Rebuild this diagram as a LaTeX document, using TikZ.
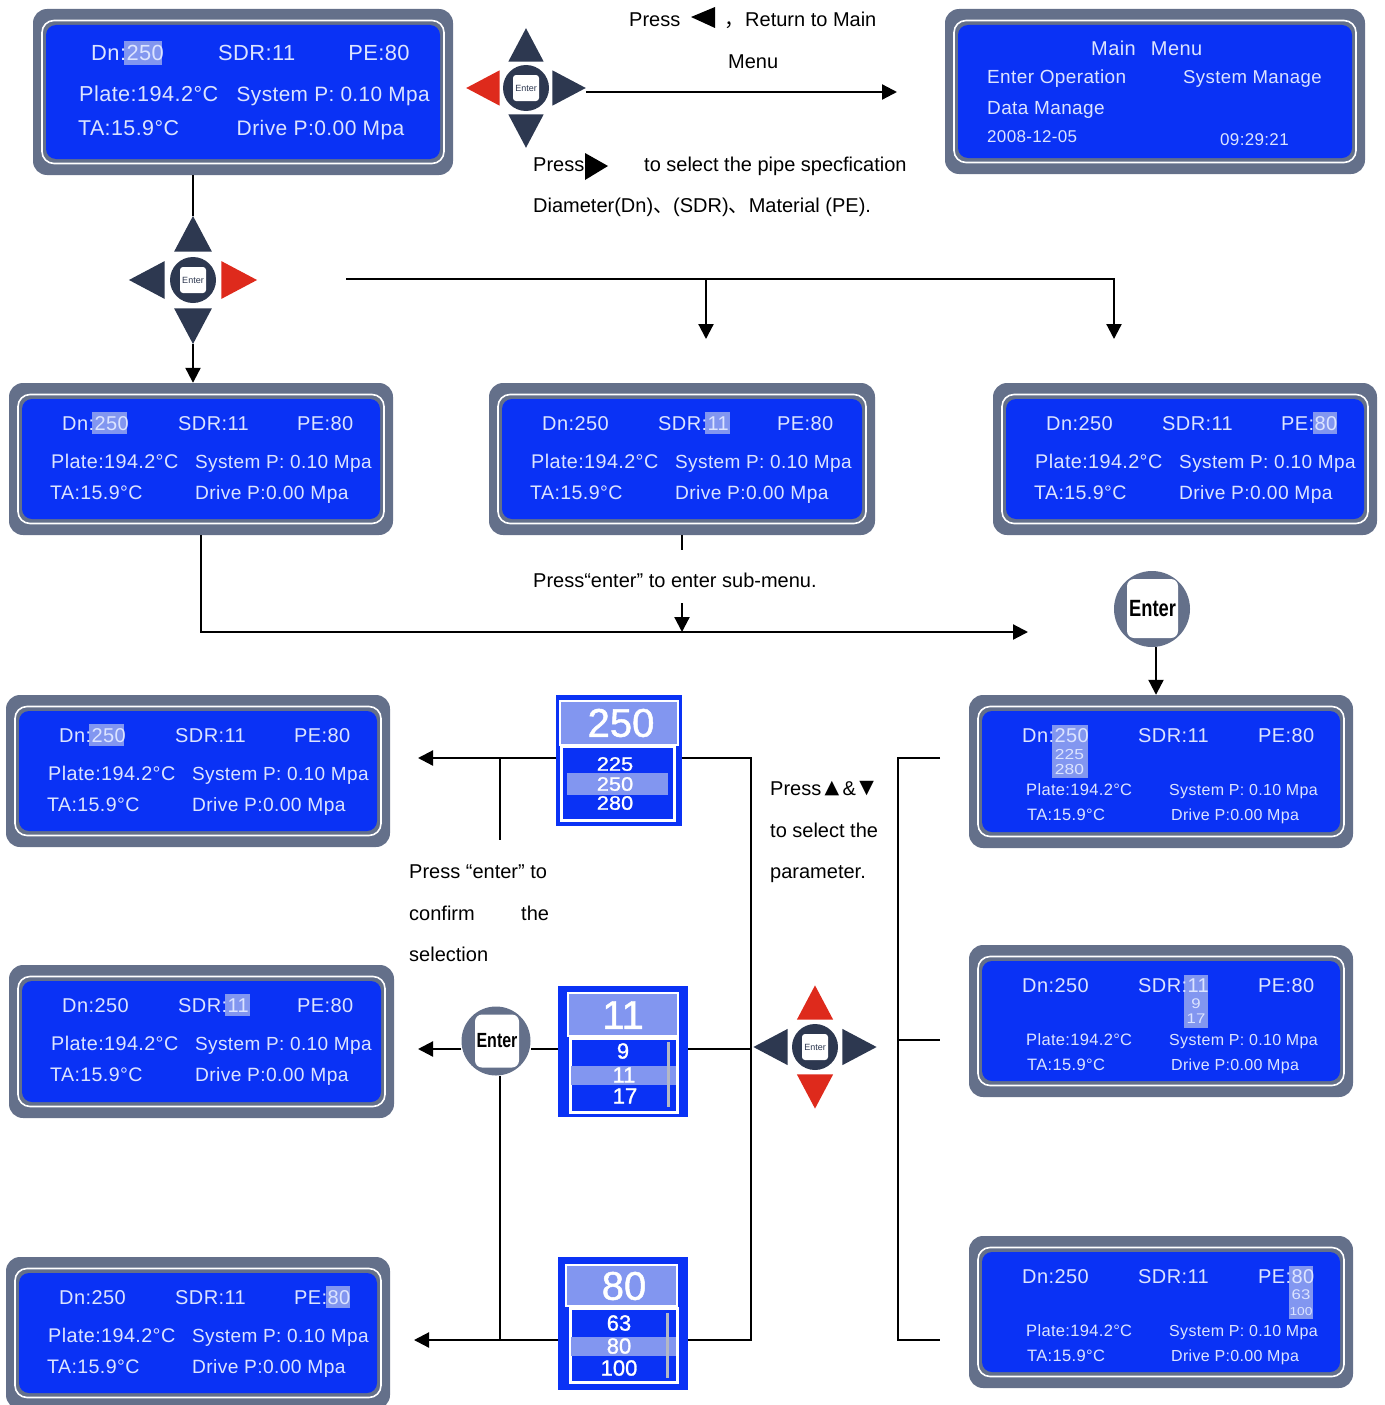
\documentclass[tikz,border=0pt]{standalone}
\usepackage{fontspec}
\usetikzlibrary{arrows.meta}
\setmainfont{Liberation Sans}
\newfontfamily\lcdf[LetterSpace=2]{Liberation Sans}
\newfontfamily\listf[FakeStretch=1.2]{Liberation Sans}
\newfontfamily\boxf[FakeBold=1.2]{Liberation Sans}
\newfontfamily\rowf[FakeBold=1.2,FakeStretch=1.12]{Liberation Sans}
\newfontfamily\keyf[FakeStretch=0.78]{Liberation Sans Bold}
\newfontfamily\symf{DejaVu Sans}
\newfontfamily\cjkf{Noto Sans CJK SC}
\definecolor{lcdgray}{HTML}{64708A}
\definecolor{lcdblue}{HTML}{0A32F5}
\definecolor{lcdhl}{HTML}{8296F0}
\definecolor{lcdtext}{HTML}{DCE4FF}
\definecolor{keydark}{HTML}{2D3850}
\definecolor{keyred}{HTML}{DE2A1C}
\definecolor{scrollgray}{HTML}{B4B8C4}
\tikzset{
  lcdouter/.style={fill=lcdgray,rounded corners=14pt,inner sep=0pt,draw=none},
  lcdtxt/.style={text=lcdtext,anchor=base west,inner sep=0pt,font=\lcdf\fontsize{#1}{#1}\selectfont},
  lcdtxt/.default=20,
  listtxt/.style={text=lcdtext,anchor=base,inner sep=0pt,font=\listf\fontsize{#1}{#1}\selectfont},
  hlfill/.style={fill=lcdhl},
  label/.style={anchor=base west,inner sep=0pt,text=black,font=\fontsize{20}{24}\selectfont},
  conn/.style={draw=black,line width=2.2pt},
  arr/.style={conn,-{Triangle[length=15pt,width=15pt]}},
  dpadhub/.style={circle,fill=keydark,minimum size=46pt,inner sep=0pt},
  dpadkey/.style={fill=white,rounded corners=3pt,minimum size=26pt,inner sep=0pt,text=keydark,font=\fontsize{9}{9}\selectfont},
  enterring/.style={circle,fill=lcdgray,inner sep=0pt},
  enterkey/.style={fill=white,rounded corners=7pt,inner sep=0pt,text=black,font=\keyf\fontsize{23.5}{24}\selectfont},
  selouter/.style={fill=lcdblue,inner sep=0pt},
  selhead/.style={fill=lcdhl,draw=white,line width=2pt},
  sellist/.style={fill=lcdblue,draw=white,line width=3pt},
  seltxt/.style={text=white,inner sep=0pt,font=\boxf\fontsize{#1}{#1}\selectfont},
  rowtxt/.style={text=white,inner sep=0pt,font=\rowf\fontsize{#1}{#1}\selectfont},
}
\newcommand\lcdpanel[5]{%
  \node[lcdouter,minimum width=#4pt,minimum height=#5pt] (#1) at ({#2+#4/2},{#3+#5/2}) {};
  \draw[white,line width=1.6pt,rounded corners=12pt] ({#2+9},{#3+11.5}) rectangle ({#2+#4-9},{#3+#5-11.5});
  \fill[lcdblue,rounded corners=10pt] ({#2+13},{#3+16}) rectangle ({#2+#4-13},{#3+#5-16});
}
\newcommand\readout[5]{%
  \begin{scope}[shift={(#2,#3)},scale=#4,transform shape]
    \ifcase#5\relax
    \or \fill[hlfill] (83,29) rectangle (118,51);
    \or \fill[hlfill] (216,29) rectangle (241,51);
    \or \fill[hlfill] (320,29) rectangle (344,51);
    \fi
    \node[lcdtxt] (#1-dn) at (53,47) {Dn:250};
    \node[lcdtxt] (#1-sdr) at (169,47) {SDR:11};
    \node[lcdtxt] (#1-pe) at (288,47) {PE:80};
    \node[lcdtxt=19.8] (#1-plate) at (42,85) {Plate:194.2°C};
    \node[lcdtxt=19] (#1-sys) at (186,85) {System P: 0.10 Mpa};
    \node[lcdtxt=19.6] (#1-ta) at (41,116) {TA:15.9°C};
    \node[lcdtxt=19.2] (#1-drv) at (186,116) {Drive P:0.00 Mpa};
  \end{scope}
}
\newcommand\subreadout[6]{% name x y which val1 val2
  \begin{scope}[shift={(#2,#3)}]
    \ifcase#4\relax
    \or \fill[hlfill] (83,30) rectangle (119,83);
        \node[listtxt=14.5] (#1-a) at (100.5,64.5) {#5};
        \node[listtxt=14.5] (#1-b) at (100.5,79) {#6};
    \or \fill[hlfill] (215,30) rectangle (239,83);
        \node[listtxt=14] (#1-a) at (227,63.5) {#5};
        \node[listtxt=14] (#1-b) at (227,78) {#6};
    \or \fill[hlfill] (320,30) rectangle (344,83);
        \node[listtxt=14] (#1-a) at (332,63) {#5};
        \node[listtxt=11.5] (#1-b) at (332,79) {#6};
    \fi
    \node[lcdtxt] (#1-dn) at (53,47) {Dn:250};
    \node[lcdtxt] (#1-sdr) at (169,47) {SDR:11};
    \node[lcdtxt] (#1-pe) at (289,47) {PE:80};
    \node[lcdtxt=16.5] (#1-plate) at (57,100) {Plate:194.2°C};
    \node[lcdtxt=16] (#1-sys) at (200,100) {System P: 0.10 Mpa};
    \node[lcdtxt=16.5] (#1-ta) at (58,125) {TA:15.9°C};
    \node[lcdtxt=16] (#1-drv) at (202,125) {Drive P:0.00 Mpa};
  \end{scope}
}
\newcommand\dpad[8]{% name x y scale n s w e colours
  \begin{scope}[shift={(#2,#3)},scale=#4]
    \fill[#5] (0,-61) -- (-18,-27) -- (18,-27) -- cycle;
    \fill[#6] (0,61) -- (-18,27) -- (18,27) -- cycle;
    \coordinate (#1-n) at (0,-61);
    \coordinate (#1-s) at (0,61);
    \coordinate (#1-w) at (-61,0);
    \coordinate (#1-e) at (61,0);
    \fill[#7] (-61,0) -- (-27,-18) -- (-27,18) -- cycle;
    \fill[#8] (61,0) -- (27,-18) -- (27,18) -- cycle;
    \node[dpadhub] (#1) at (0,0) {};
    \node[dpadkey] (#1-key) at (0,0) {Enter};
  \end{scope}
}
\begin{document}
\begin{tikzpicture}[x=1pt,y=-1pt]
\useasboundingbox (0,0) rectangle (1384,1405);

% top row
\lcdpanel{top}{33}{9}{420}{166}
\readout{top}{33}{9}{1.094}{1}
\lcdpanel{menu}{945}{9}{420}{165}
\node[lcdtxt] (menu-t) at (1091,56) {Main\ \ \,Menu};
\node[lcdtxt=19] (menu-a) at (987,83) {Enter Operation};
\node[lcdtxt=18.6] (menu-b) at (1183,83) {System Manage};
\node[lcdtxt=19] (menu-c) at (987,114) {Data Manage};
\node[lcdtxt=17] (menu-d) at (987,142) {2008-12-05};
\node[lcdtxt=17] (menu-e) at (1220,145) {09:29:21};

\dpad{dp1}{526}{88}{0.98}{keydark}{keydark}{keyred}{keydark}
\dpad{dp2}{193}{280}{1.05}{keydark}{keydark}{keydark}{keyred}
\dpad{dp3}{815}{1047}{1.01}{keyred}{keyred}{keydark}{keydark}

% top labels
\node[label] (l1) at (629,27) {Press};
\fill[black] (691,17) -- (715,7) -- (715,28) -- cycle;
\node[label] (l2) at (724,27) {\cjkf ，};
\node[label] (l3) at (745,27) {Return to Main};
\node[label] (l4) at (728,68) {Menu};
\node[label] (l5) at (533,171) {Press};
\fill[black] (608,166) -- (585,153) -- (585,180) -- cycle;
\node[label] (l6) at (644,171) {to select the pipe specfication};
\node[label] (l7) at (533,212) {Diameter(Dn){\cjkf 、}(SDR){\cjkf 、}Material (PE).};

% row 2
\lcdpanel{r1}{9}{383}{384}{152}
\readout{r1}{9}{383}{1}{1}
\lcdpanel{r2}{489}{383}{386}{152}
\readout{r2}{489}{383}{1}{2}
\lcdpanel{r3}{993}{383}{384}{152}
\readout{r3}{993}{383}{1}{3}

\node[label] (l8) at (533,587) {Press“enter” to enter sub-menu.};

% enter key top right
\node[enterring,minimum size=76pt] (ent1) at (1152,609) {};
\node[enterkey,minimum width=51pt,minimum height=59pt] (ent1k) at (1152.5,608.5) {Enter};

% left column
\lcdpanel{l-a}{6}{695}{384}{152}
\readout{l-a}{6}{695}{1}{1}
\lcdpanel{l-b}{9}{965}{385}{153}
\readout{l-b}{9}{965}{1}{2}
\lcdpanel{l-c}{6}{1257}{384}{152}
\readout{l-c}{6}{1257}{1}{3}

% right column
\lcdpanel{s-a}{969}{695}{384}{153}
\subreadout{s-a}{969}{695}{1}{225}{280}
\lcdpanel{s-b}{969}{945}{384}{152}
\subreadout{s-b}{969}{945}{2}{9}{17}
\lcdpanel{s-c}{969}{1236}{384}{152}
\subreadout{s-c}{969}{1236}{3}{63}{100}

% selection box 250
\node[selouter,minimum width=126pt,minimum height=131pt] (b250) at (619,760.5) {};
\filldraw[selhead] (560,701) rectangle (678,745);
\filldraw[sellist] (561.5,746) rectangle (674.5,820);
\fill[hlfill] (567,773) rectangle (668,795);
\node[seltxt=40] (b250-h) at (621,723) {250};
\node[rowtxt=19.5] (b250-a) at (615,764) {225};
\node[rowtxt=19.5] (b250-b) at (615,784) {250};
\node[rowtxt=19.5] (b250-c) at (615,803) {280};

% selection box 11
\node[selouter,minimum width=130pt,minimum height=131pt] (b11) at (623,1051.5) {};
\filldraw[selhead] (568,993) rectangle (678,1036);
\filldraw[sellist] (570,1038) rectangle (677,1112);
\fill[hlfill] (571,1066) rectangle (676,1085);
\fill[scrollgray] (667,1042) rectangle (670,1107);
\node[seltxt=40] (b11-h) at (623,1015) {11};
\node[seltxt=22] (b11-a) at (623,1051) {9};
\node[seltxt=22] (b11-b) at (624,1075) {11};
\node[seltxt=22] (b11-c) at (625,1096) {17};

% selection box 80
\node[selouter,minimum width=130pt,minimum height=133pt] (b80) at (623,1323.5) {};
\filldraw[selhead] (566,1265) rectangle (677,1306);
\filldraw[sellist] (570,1308) rectangle (677,1382);
\fill[hlfill] (571,1337) rectangle (676,1356);
\fill[scrollgray] (666,1313) rectangle (669,1378);
\node[seltxt=40] (b80-h) at (624,1286) {80};
\node[seltxt=22] (b80-a) at (619,1323) {63};
\node[seltxt=22] (b80-b) at (619,1346) {80};
\node[seltxt=22] (b80-c) at (619,1368) {100};

% enter key left
\node[enterring,minimum size=69pt] (ent2) at (496,1041) {};
\node[enterkey,minimum width=44pt,minimum height=53pt,font=\keyf\fontsize{20.5}{21}\selectfont] (ent2k) at (497,1041) {Enter};

% middle labels
\node[label] (l9) at (770,795) {Press\,\raisebox{1.5pt}{\symf\fontsize{19}{19}\selectfont ▲}\,\&\,\raisebox{1.5pt}{\symf\fontsize{19}{19}\selectfont ▼}};
\node[label] (l10) at (770,837) {to select the};
\node[label] (l11) at (770,878) {parameter.};
\node[label] (l12) at (409,878) {Press “enter” to};
\node[label] (l13) at (409,920) {confirm};
\node[label] (l14) at (521,920) {the};
\node[label] (l15) at (409,961) {selection};

% free ends
\coordinate (a1) at (897,92);
\coordinate (a2) at (346,279);
\coordinate (a3) at (1114,339);
\coordinate (a4) at (706,339);
\coordinate (a5) at (682,550);
\coordinate (a6) at (682,603);
\coordinate (a7) at (682,632);
\coordinate (a8) at (1028,632);
\coordinate (a9) at (418,758);
\coordinate (a10) at (500,840);
\coordinate (a11) at (751,758);
\coordinate (a12) at (751,1340);
\coordinate (a13) at (418,1049);
\coordinate (a14) at (414,1340);
\coordinate (a15) at (500,1340);
\coordinate (a16) at (940,758);
\coordinate (a17) at (898,758);
\coordinate (a18) at (898,1340);
\coordinate (a19) at (940,1340);
\coordinate (a20) at (898,1040);
\coordinate (a21) at (940,1040);
\coordinate (a22) at (751,1049);
\coordinate (a23) at (500,758);
\coordinate (a24) at (1156,647);

% connectors
\draw[arr] (dp1-e |- a1) -- (a1);
\draw[conn] (top.south -| dp2) -- (dp2-n);
\draw[arr] (dp2-s) -- (r1.north -| dp2);
\draw[arr] (a2) -| (a3);
\draw[arr] (a4 |- a2) -- (a4);
\draw[conn] (r2.south -| a5) -- (a5);
\draw[arr] (a6) -- (a7);
\draw[arr] (r1.south) |- (a8);
\draw[arr] (a24) -- (s-a.north -| a24);
\draw[arr] (b250.west |- a9) -- (a9);
\draw[conn] (a23) -- (a10);
\draw[conn] (b250.east |- a11) -- (a11) -- (a12) -- (b80.east |- a12);
\draw[conn] (b11.east |- a22) -- (a22);
\draw[conn] (b11.west |- a13) -- (ent2.east |- a13);
\draw[arr] (ent2.west |- a13) -- (a13);
\draw[conn] (ent2.south -| a15) -- (a15);
\draw[arr] (b80.west |- a14) -- (a14);
\draw[conn] (a16) -- (a17) -- (a18) -- (a19);
\draw[conn] (a20) -- (a21);
\end{tikzpicture}
\end{document}
